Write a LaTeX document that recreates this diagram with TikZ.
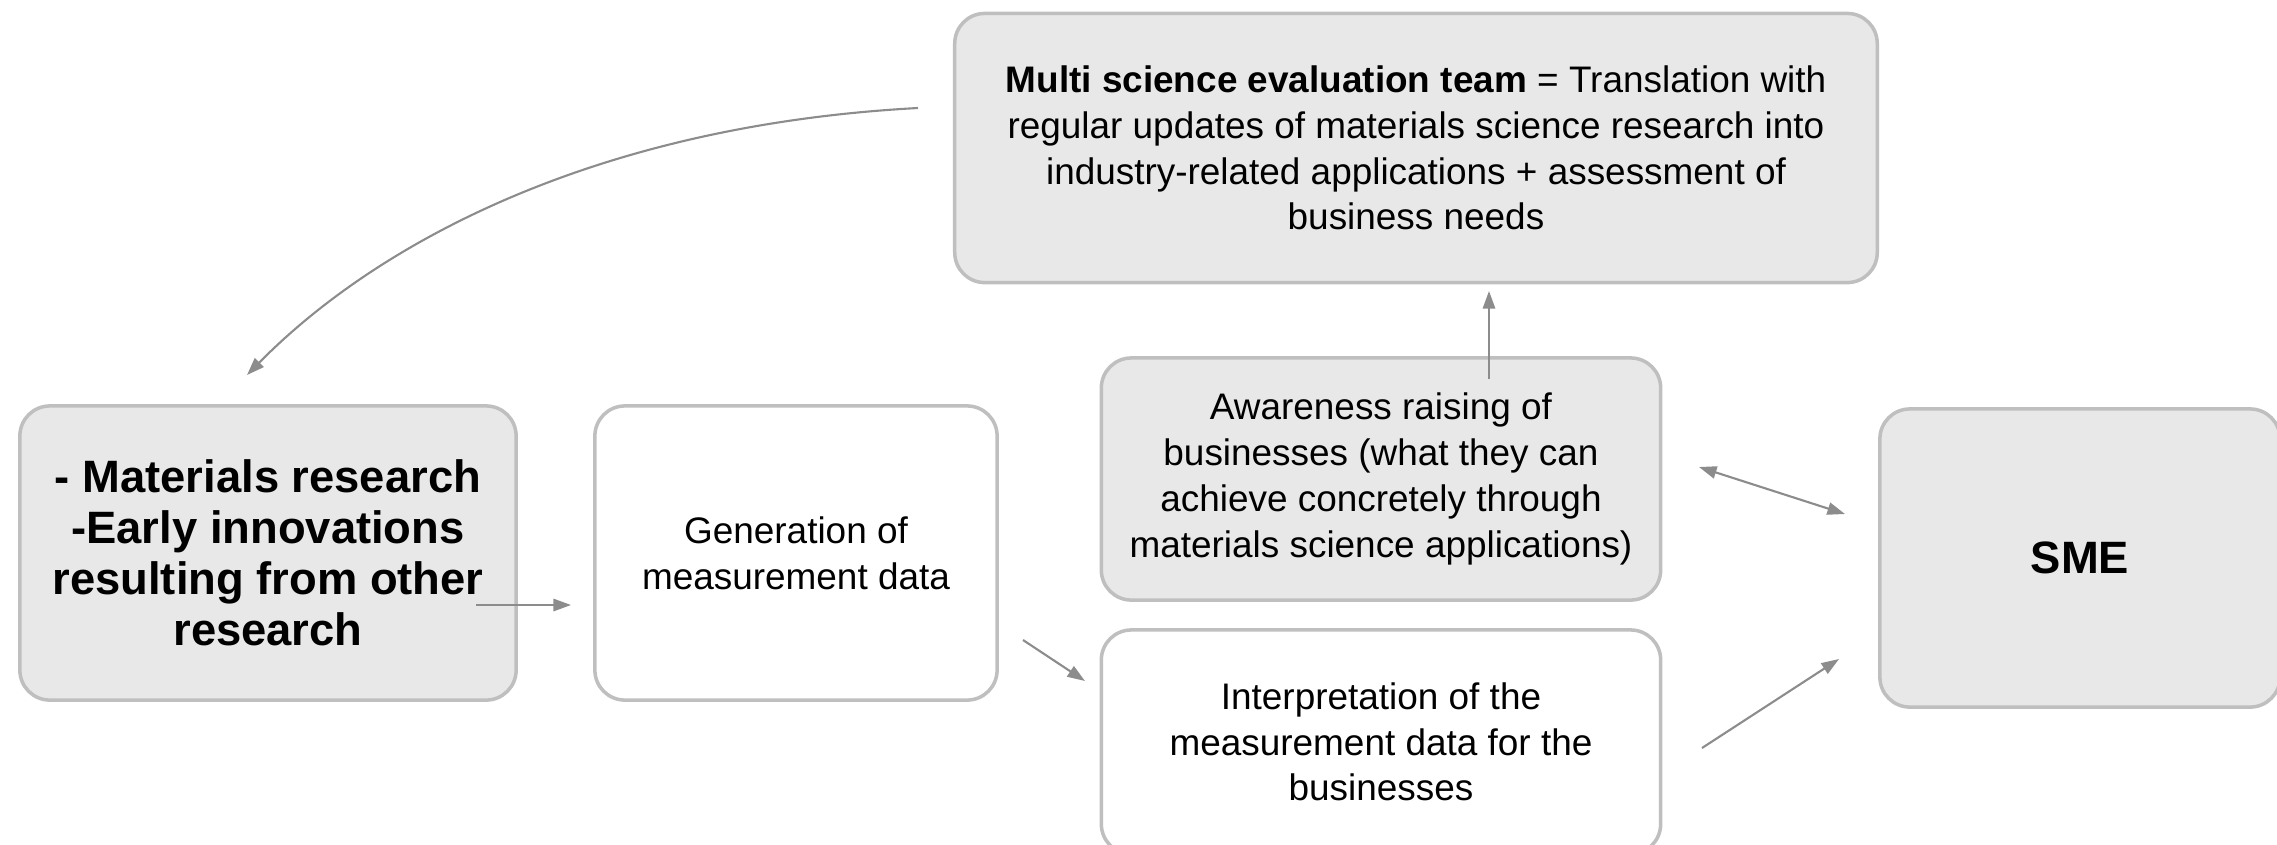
\documentclass[tikz,border=0pt]{standalone}
\usepackage{fontspec}
\setmainfont{Liberation Sans}
\usetikzlibrary{arrows.meta}

\begin{document}
\begin{tikzpicture}[x=0.01cm, y=-0.01cm,
  box/.style={draw=black!25, line width=1pt, rounded corners=0.3cm,
    align=center, inner sep=0pt, font=\fontsize{10.5}{13}\selectfont},
  greybox/.style={box, fill=black!9},
  whitebox/.style={box, fill=white},
  bigtext/.style={font=\bfseries\fontsize{12.9}{14.5}\selectfont},
  link/.style={draw=black!45, line width=0.6pt,
    -{Triangle[length=5pt,width=3.5pt]}}]

\useasboundingbox (0,0) rectangle (2277,844);

\node [greybox, minimum width=9.22cm, minimum height=2.69cm] (team) at (1416,148)
  {\textbf{Multi science evaluation team} = Translation with\\
   regular updates of materials science research into\\
   industry-related applications + assessment of\\
   business needs};
\node [greybox, bigtext, minimum width=4.96cm, minimum height=2.94cm] (research) at (268,553)
  {- Materials research\\ -Early innovations\\ resulting from other\\ research};
\node [whitebox, minimum width=4.02cm, minimum height=2.94cm] (gen) at (796,553)
  {Generation of\\ measurement data};
\node [greybox, minimum width=5.59cm, minimum height=2.42cm] (aware) at (1381,479)
  {Awareness raising of\\ businesses (what they can\\ achieve concretely through\\
   materials science applications)};
\node [whitebox, minimum width=5.59cm, minimum height=2.24cm] (interp) at (1381,742)
  {Interpretation of the\\ measurement data for the\\ businesses};
\node [greybox, bigtext, minimum width=4.0cm, minimum height=2.98cm] (sme) at (2080,558)
  {SME};

\coordinate (A) at (918,108);
\coordinate (B) at (247,375);
\coordinate (C) at (476,605);
\coordinate (D) at (571,605);
\coordinate (E) at (1023,640);
\coordinate (F) at (1085,681);
\coordinate (G) at (1489,379);
\coordinate (H) at (1489,291);
\coordinate (I) at (1699,467);
\coordinate (J) at (1845,514);
\coordinate (K) at (1702,748);
\coordinate (L) at (1839,659);

\draw [link] (A) .. controls (600,125) and (380,240) .. (B);
\draw [link] (C) -- (D);
\draw [link] (E) -- (F);
\draw [link] (G) -- (H);
\draw [link, {Triangle[length=5pt,width=3.5pt]}-{Triangle[length=5pt,width=3.5pt]}] (I) -- (J);
\draw [link] (K) -- (L);

\end{tikzpicture}
\end{document}
